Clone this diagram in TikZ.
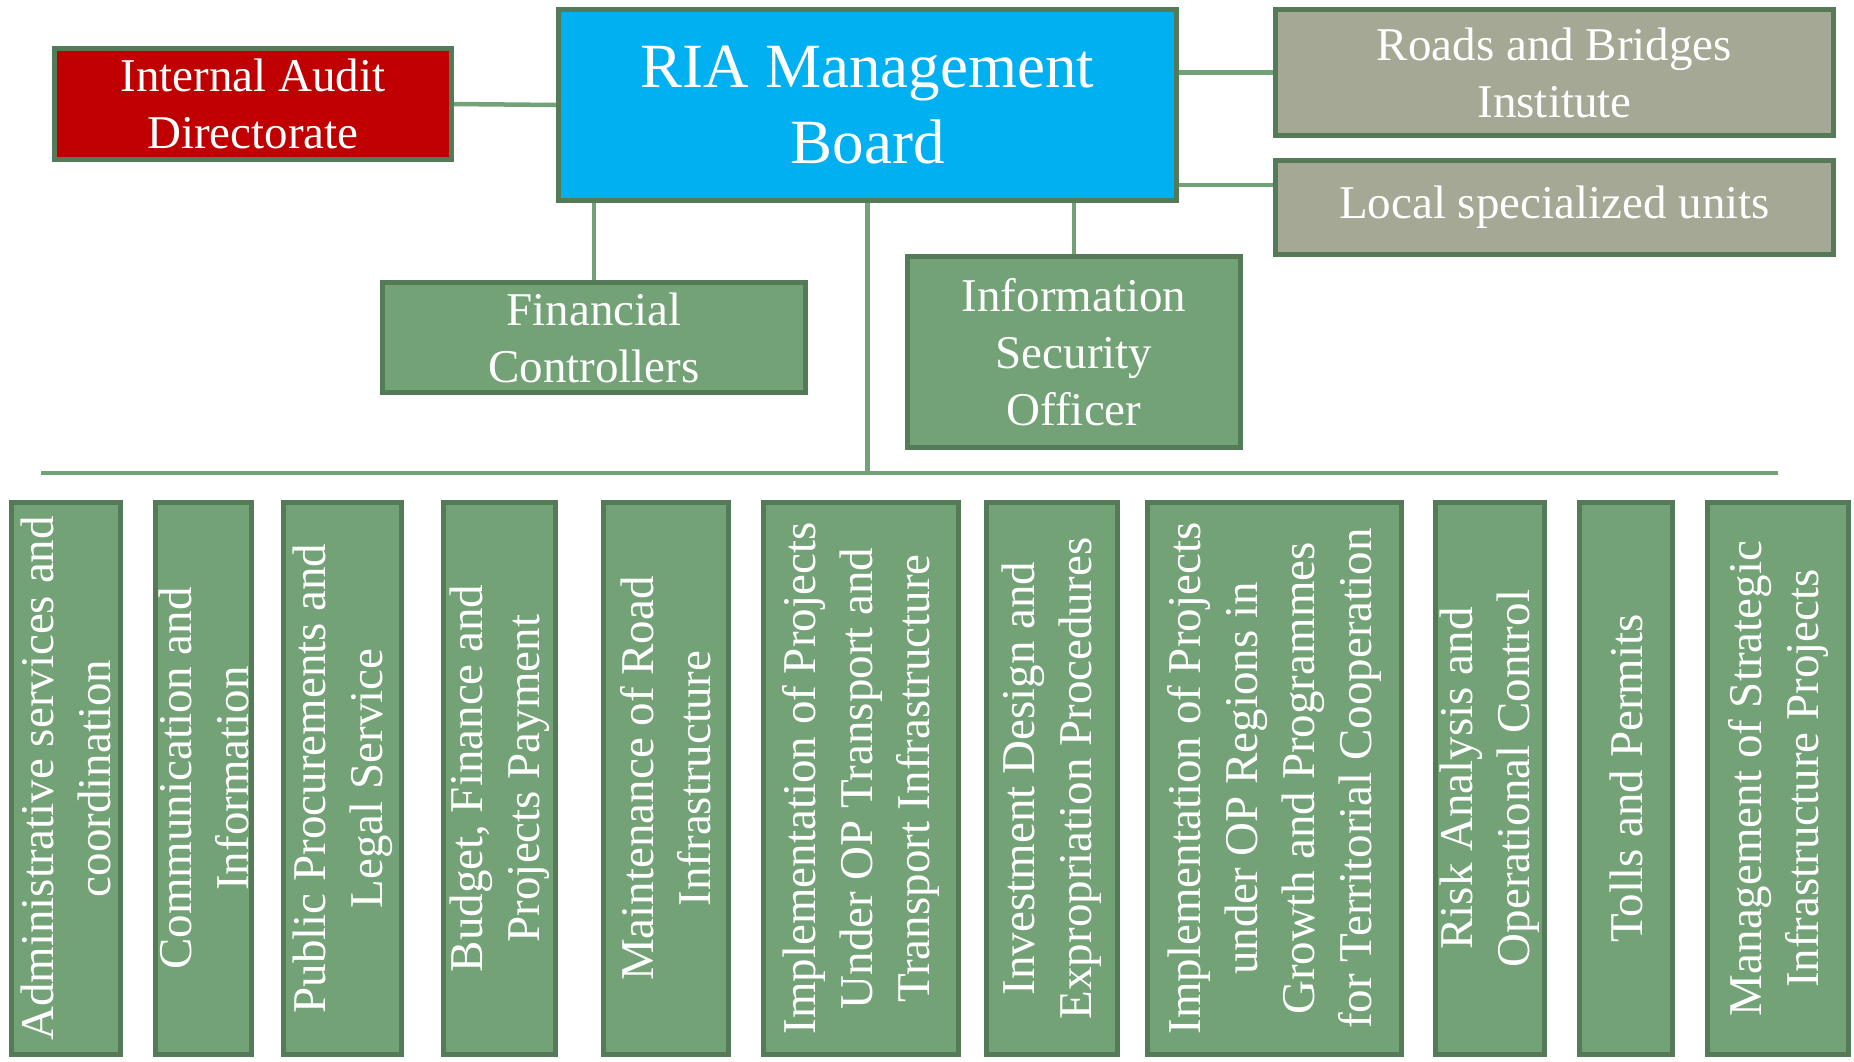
\documentclass[tikz,border=0pt]{standalone}
\usepackage{fontspec}
\setmainfont{Liberation Serif}
\usetikzlibrary{positioning}
\definecolor{boxgreen}{RGB}{114,162,118}
\definecolor{edgegreen}{RGB}{84,122,88}
\definecolor{boardblue}{RGB}{0,176,240}
\definecolor{auditred}{RGB}{192,0,0}
\definecolor{unitgray}{RGB}{165,168,148}

\begin{document}
\begin{tikzpicture}[x=1pt,y=-1pt,line width=5pt,
		top box/.style={rectangle,draw=edgegreen,text=white,align=center,inner sep=0pt,font=\fontsize{47}{57}\selectfont},
		unit box/.style={rectangle,draw=edgegreen,fill=boxgreen,text=white,align=center,inner sep=0pt,rotate=90,minimum width=552pt,font=\fontsize{47}{57}\selectfont},
		link line/.style={draw=boxgreen,line width=4.5pt}]
		\useasboundingbox (0,0) rectangle (1854,1061);
		
		\node[top box,fill=boardblue,minimum width=618pt,minimum height=191pt,font=\fontsize{63}{76}\selectfont] (1) at (867.5,105) {RIA Management\\Board};
		\node[top box,fill=auditred,minimum width=397pt,minimum height=111pt] (2) at (253,104) {Internal Audit\\Directorate};
		\node[top box,fill=boxgreen,minimum width=423pt,minimum height=110pt] (3) at (594,337.5) {Financial\\Controllers};
		\node[top box,fill=boxgreen,minimum width=333pt,minimum height=191pt] (4) at (1074,352) {Information\\Security\\Officer};
		\node[top box,fill=unitgray,minimum width=558pt,minimum height=126pt] (5) at (1554.5,72.5) {Roads and Bridges\\Institute};
		\node[top box,fill=unitgray,minimum width=558pt,minimum height=94pt] (6) [below=20pt of 5] {Local specialized units};
		
		\foreach \cx/\w/\txt [count=\n from 7] in {
			66/109/{Administrative services and\\coordination},
			203.5/96/{Communication and\\Information},
			342.5/118/{Public Procurements and\\Legal Service},
			499.5/112/{Budget, Finance and\\Projects Payment},
			666/125/{Maintenance of Road\\Infrastructure},
			861/195/{Implementation of Projects\\Under OP Transport and\\Transport Infrastructure},
			1052/131/{Investment Design and\\Expropriation Procedures},
			1274.5/254/{Implementation of Projects\\under OP Regions in\\Growth and Programmes\\for Territorial Cooperation},
			1490/109/{Risk Analysis and\\Operational Control},
			1626/93/{Tolls and Permits},
			1778/141/{Management of Strategic\\Infrastructure Projects}}
		\node[unit box,minimum height=\w pt] (\n) at (\cx,778.5) {\txt};
		
		\coordinate (bus) at (867.5,473);
		\coordinate (bus left) at (41,473);
		\coordinate (bus right) at (1778,473);
		
		\path[link line]
		(2.east) edge (1.west)
		(3.north) edge (3.north |- 1.south)
		(4.north) edge (4.north |- 1.south)
		(5.west) edge (5.west -| 1.east)
		([yshift=22.5pt]6.west) edge ([yshift=22.5pt]6.west -| 1.east)
		(1.south) edge (bus)
		(bus left) edge (bus right);
		\end{tikzpicture}
\end{document}
